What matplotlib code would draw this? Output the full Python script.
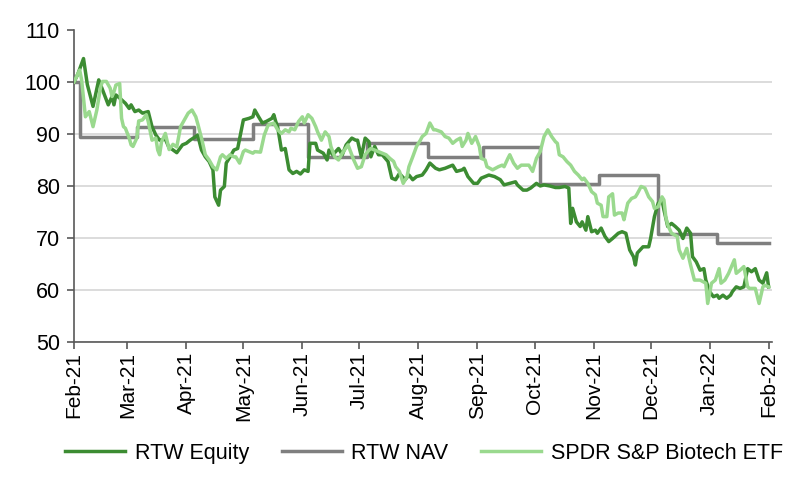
"""RTW Equity vs NAV vs SPDR S&P Biotech ETF (rebased to 100)"""
import matplotlib
matplotlib.use("Agg")
import matplotlib.pyplot as plt
import matplotlib.dates as mdates
import pandas as pd

start = pd.Timestamp("2021-02-01")

# dias desde 1 feb 2021 y valores
eq_day = [0, 2, 5, 7, 10, 13, 18, 20, 21, 22,
          24, 27, 29, 30, 32, 34, 36, 39, 41, 43,
          45, 48, 50, 51, 54, 57, 59, 61, 64, 65,
          67, 69, 71, 73, 74, 76, 77, 79, 80, 82,
          84, 86, 89, 92, 94, 95, 97, 99, 101, 104,
          105, 106, 107, 109, 111, 113, 115, 117, 119, 121,
          123, 124, 127, 128, 131, 133, 134, 136, 139, 141,
          143, 146, 148, 149, 151, 153, 155, 156, 158, 160,
          162, 165, 167, 169, 171, 174, 176, 178, 180, 183,
          185, 187, 190, 192, 195, 197, 199, 201, 204, 205,
          207, 210, 212, 214, 216, 218, 221, 224, 226, 229,
          232, 233, 236, 238, 240, 243, 245, 247, 250, 253,
          255, 258, 260, 261, 262, 264, 266, 267, 269, 270,
          272, 274, 275, 277, 279, 281, 283, 286, 288, 290,
          292, 294, 295, 296, 299, 302, 303, 305, 307, 309,
          310, 312, 314, 316, 318, 320, 322, 324, 325, 327,
          329, 331, 332, 334, 336, 338, 339, 341, 343, 345,
          346, 348, 350, 352, 354, 356, 358, 360, 362, 364, 365]
eq_val = [100.0, 101.5, 104.5, 99.5, 95.3, 100.4, 95.6, 97.2, 95.6, 97.5,
          96.9, 95.9, 94.9, 95.6, 94.3, 94.6, 94.0, 94.3, 91.4, 89.8,
          88.8, 89.0, 87.3, 87.2, 86.4, 87.9, 88.2, 88.8, 89.5, 89.8,
          86.9, 85.6, 84.7, 83.1, 77.9, 76.3, 79.2, 79.9, 84.4, 85.6,
          86.9, 87.2, 92.7, 93.0, 93.3, 94.6, 93.3, 92.1, 92.4, 93.0,
          93.7, 92.4, 91.4, 86.9, 87.2, 83.1, 82.4, 82.8, 82.3, 83.1,
          82.8, 88.2, 88.2, 86.9, 86.3, 85.0, 86.9, 86.0, 87.2, 86.0,
          87.9, 89.2, 88.8, 88.8, 85.6, 89.2, 88.5, 85.6, 87.6, 86.0,
          86.0, 84.7, 81.5, 81.2, 82.4, 81.2, 82.1, 81.2, 81.8, 82.1,
          83.1, 84.4, 83.4, 83.1, 83.4, 83.7, 84.0, 82.8, 83.1, 83.4,
          81.8, 80.5, 80.5, 81.5, 81.8, 82.1, 81.8, 81.2, 80.2, 80.5,
          80.8, 80.2, 79.2, 79.2, 79.6, 80.5, 80.0, 80.2, 80.0, 79.7,
          79.7, 79.9, 79.6, 72.8, 75.7, 73.1, 72.2, 73.1, 71.5, 74.1,
          71.2, 71.5, 70.9, 71.9, 70.3, 69.3, 69.9, 70.9, 71.2, 70.9,
          67.7, 66.4, 64.8, 67.1, 68.3, 68.3, 69.9, 74.1, 76.7, 77.3,
          75.4, 72.2, 72.8, 72.2, 71.5, 69.9, 71.9, 70.9, 66.4, 65.4,
          63.8, 64.1, 61.9, 59.7, 58.7, 59.0, 58.4, 59.0, 58.4, 59.0,
          59.7, 60.6, 60.3, 60.6, 64.1, 63.5, 64.1, 61.9, 61.3, 63.3, 60.6]

nav_day = [0, 3, 33, 63, 94, 123, 154, 186, 215, 245, 276, 307, 338, 365]
nav_val = [100.0, 89.4, 91.4, 89.0, 92.0, 85.6, 88.2, 85.6, 87.4, 80.3,
           82.2, 70.7, 69.1, 69.1]

xbi_day = [0, 3, 4, 6, 8, 10, 12, 14, 15, 17,
           19, 20, 21, 22, 24, 25, 26, 27, 29, 30,
           31, 33, 34, 36, 38, 39, 41, 43, 44, 45,
           46, 48, 50, 52, 54, 56, 58, 60, 62, 64,
           65, 67, 68, 69, 71, 73, 75, 77, 78, 80,
           82, 84, 85, 87, 89, 90, 92, 94, 95, 98,
           100, 102, 105, 107, 109, 111, 113, 114, 116, 118,
           120, 121, 123, 125, 127, 128, 130, 132, 134, 135,
           137, 139, 141, 144, 147, 149, 151, 153, 155, 156,
           158, 160, 162, 164, 166, 168, 169, 171, 173, 175,
           176, 178, 180, 182, 183, 185, 187, 189, 190, 193,
           195, 197, 199, 201, 203, 204, 206, 207, 209, 211,
           213, 214, 216, 217, 220, 223, 225, 226, 228, 229,
           231, 233, 235, 238, 239, 241, 243, 245, 247, 249,
           251, 253, 254, 255, 257, 259, 261, 263, 265, 267,
           268, 270, 272, 274, 275, 277, 278, 280, 281, 283,
           284, 286, 288, 289, 291, 293, 295, 296, 298, 300,
           302, 304, 305, 307, 309, 310, 311, 312, 314, 317,
           318, 320, 322, 324, 326, 329, 332, 333, 335, 337,
           339, 340, 342, 344, 347, 348, 350, 352, 354, 355,
           358, 360, 362, 363, 365]
xbi_val = [100.0, 102.3, 100.4, 93.3, 94.3, 91.4, 94.6, 99.1, 100.1, 100.1,
           98.8, 97.2, 98.1, 99.4, 99.7, 93.0, 91.4, 91.1, 89.2, 87.9,
           87.6, 89.2, 92.5, 92.7, 93.7, 92.4, 88.8, 89.2, 86.9, 86.0,
           88.5, 90.1, 87.0, 88.0, 87.5, 91.4, 92.7, 94.0, 94.6, 93.3,
           92.0, 89.2, 87.6, 86.0, 85.0, 83.7, 83.1, 85.6, 86.0, 85.3,
           86.0, 85.6, 85.6, 84.4, 86.6, 86.9, 86.6, 86.3, 86.6, 86.5,
           89.8, 91.7, 92.1, 90.8, 90.1, 90.8, 90.4, 91.1, 90.8, 92.4,
           93.3, 92.1, 93.7, 93.0, 91.4, 90.4, 88.8, 90.4, 89.5, 87.6,
           85.6, 85.0, 86.3, 87.9, 85.0, 83.4, 83.7, 86.0, 86.9, 87.2,
           86.9, 86.6, 86.3, 86.0, 85.3, 84.7, 83.7, 82.8, 80.5, 81.8,
           83.7, 85.6, 87.6, 88.8, 89.5, 90.1, 92.1, 90.8, 90.8, 90.4,
           89.5, 89.2, 88.2, 88.8, 89.2, 87.6, 88.8, 90.1, 88.2, 89.5,
           87.6, 85.3, 85.0, 83.7, 83.1, 83.7, 84.0, 83.7, 85.3, 86.0,
           84.4, 83.4, 84.0, 84.0, 84.0, 82.8, 85.3, 86.6, 89.5, 90.8,
           89.5, 88.5, 88.2, 86.0, 85.6, 84.7, 84.0, 82.8, 82.1, 81.2,
           81.5, 80.5, 78.9, 78.3, 76.7, 76.3, 74.1, 74.1, 77.9, 78.5,
           74.4, 74.8, 74.8, 73.5, 76.7, 77.6, 77.9, 78.5, 79.9, 79.6,
           77.9, 77.0, 75.7, 76.0, 77.9, 77.3, 74.0, 72.5, 70.9, 70.3,
           67.7, 66.1, 68.0, 64.8, 61.9, 61.9, 61.3, 57.4, 61.3, 61.9,
           64.1, 61.3, 61.9, 63.2, 65.8, 63.2, 63.8, 64.5, 60.6, 60.3,
           60.3, 57.4, 60.6, 60.9, 60.6]

series_names = ["RTW Equity", "RTW NAV", "SPDR S&P Biotech ETF"]
yticks = [50, 60, 70, 80, 90, 100, 110]


def to_dates(days):
    return start + pd.to_timedelta(days, unit="D")


plt.rcParams["font.family"] = ["Liberation Sans", "DejaVu Sans"]

fig = plt.figure(figsize=(8, 4.83), dpi=100)
ax = fig.add_axes([0.0925, 0.292, 0.873, 0.646])

ax.plot(to_dates(eq_day), eq_val, color="#3C8C32", lw=2.5, label=series_names[0], zorder=3)
ax.plot(to_dates(nav_day), nav_val, color="#7F7F7F", lw=2.5, drawstyle="steps-post",
        label=series_names[1], zorder=2)
ax.plot(to_dates(xbi_day), xbi_val, color="#9AD98E", lw=2.5, label=series_names[2], zorder=4)

ax.set_ylim(50, 110)
ax.set_yticks(yticks)
ax.set_xlim(start, pd.Timestamp("2022-02-03"))
ax.xaxis.set_major_locator(mdates.MonthLocator())
ax.xaxis.set_major_formatter(mdates.DateFormatter("%b-%y"))

ax.grid(axis="y", color="#D9D9D9", lw=1.3, zorder=0)
ax.yaxis.get_gridlines()[-1].set_visible(False)
ax.set_axisbelow(True)
for s in ["top", "right"]:
    ax.spines[s].set_visible(False)
for s in ["left", "bottom"]:
    ax.spines[s].set_color("#595959")
    ax.spines[s].set_linewidth(1.2)

ax.tick_params(axis="y", labelsize=15.5, length=5, width=1.2, color="#595959", pad=5)
ax.tick_params(axis="x", labelsize=15, length=5, width=1.2, color="#595959", pad=2,
               labelrotation=90)

fig.legend(loc="center", bbox_to_anchor=(0.53, 0.062), ncol=3, frameon=False,
           fontsize=15.5, handlelength=2.8, handletextpad=0.45, columnspacing=1.5)

plt.savefig("out.png", dpi=100)
